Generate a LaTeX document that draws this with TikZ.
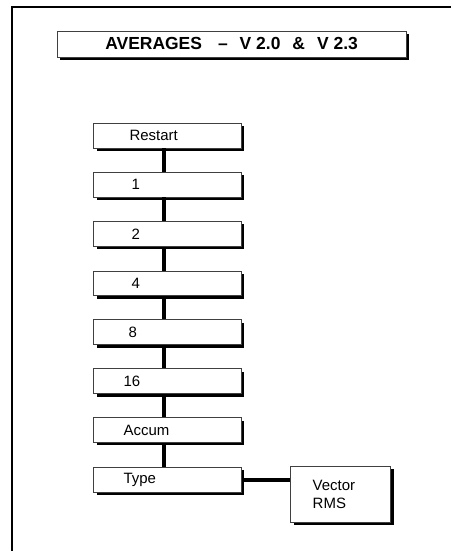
\documentclass[tikz,border=0pt]{standalone}
\usepackage{fontspec}
\setmainfont{Liberation Sans}
\usetikzlibrary{shadows}

\tikzset{
  menubox/.style={draw=black!75, fill=white, line width=0.6pt,
    minimum width=148pt, minimum height=25pt, text width=148pt,
    inner sep=0pt, align=left, font=\fontsize{15}{19}\selectfont,
    drop shadow={shadow xshift=3pt, shadow yshift=-3pt, fill=black, opacity=1}},
  titlebox/.style={menubox, minimum width=350pt, minimum height=26pt,
    text width=, align=center, font=\bfseries\fontsize{17.5}{20}\selectfont},
  link/.style={line width=4pt}
}

\begin{document}
\begin{tikzpicture}[x=1pt, y=-1pt]

  % Page and frame
  \fill[white] (0,0) rectangle (452,552);
  \draw[line width=2pt] (11.7,552) |- (452,7.3);

  % Title
  \node[titlebox] (title) at (232,44)
    {AVERAGES\hspace{16pt}--\hspace{12pt}V 2.0\hspace{12pt}\&\hspace{12pt}V 2.3};

  % Draw the menu entries
  \foreach \name/\txt/\ind/\top in {restart/Restart/36/123, n1/1/38/172,
      n2/2/38/221.5, n4/4/38/271, n8/8/35/320, n16/16/30/369,
      accum/Accum/30/418, type/Type/30/468}
    \node[menubox, anchor=north west] (\name) at (93.5,\top) {\hspace*{\ind pt}\txt};

  % Draw the links between the entries
  \foreach \a/\b in {restart/n1, n1/n2, n2/n4, n4/n8, n8/n16, n16/accum, accum/type}
    \draw[link] ([xshift=-3.5pt]\a.south) -- ([xshift=-3.5pt]\b.north);

  % Type choices
  \node[menubox, minimum width=100pt, text width=100pt, minimum height=56pt,
    anchor=north west] (vec) at (291,467) {\hspace*{22pt}Vector\\\hspace*{22pt}RMS};
  \draw[link] (type.east) -- (vec.west |- type.east);

\end{tikzpicture}
\end{document}
